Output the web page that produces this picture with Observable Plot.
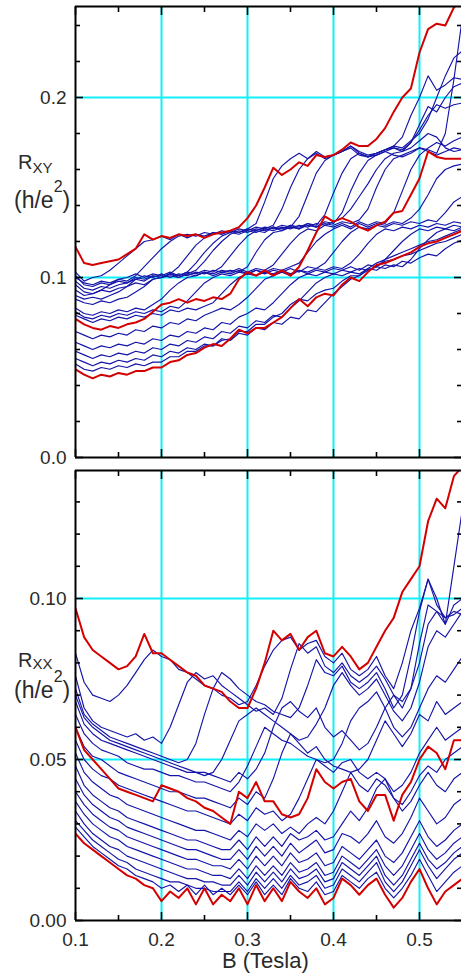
<!DOCTYPE html>
<html><head><meta charset="utf-8">
<script src="https://cdn.jsdelivr.net/npm/d3@7"></script>
<script src="https://cdn.jsdelivr.net/npm/@observablehq/plot@0.6"></script>
<style>
body{margin:0;background:#fff;}
#wrap{position:relative;width:461px;height:974px;overflow:hidden;background:#fff;}
#top,#bot{position:absolute;left:0;}
#top{top:0;} #bot{top:462px;}
</style></head><body>
<div id="wrap"><div id="top"></div><div id="bot"></div></div>
<script>
// magnetic field grid (Tesla)
const bGrid = [0.10,0.11,0.12,0.13,0.14,0.15,0.16,0.17,0.18,0.19,
0.20,0.21,0.22,0.23,0.24,0.25,0.26,0.27,0.28,0.29,
0.30,0.31,0.32,0.33,0.34,0.35,0.36,0.37,0.38,0.39,
0.40,0.41,0.42,0.43,0.44,0.45,0.46,0.47,0.48,0.49,
0.50,0.51,0.52,0.53,0.54,0.55];

// ---- R_XY (h/e^2), red curves ----
const rxyRed1 = [.117,.108,.107,.108,.109,.110,.113,.116,.124,.121,
.123,.122,.124,.123,.124,.122,.124,.125,.126,.128,
.133,.140,.150,.161,.157,.160,.164,.162,.168,.167,
.168,.171,.175,.173,.173,.177,.183,.192,.200,.205,
.225,.238,.241,.240,.250,.255];
const rxyRed2 = [.077,.074,.072,.071,.073,.072,.074,.075,.077,.081,
.085,.086,.088,.086,.088,.087,.089,.088,.091,.099,
.103,.101,.104,.101,.104,.101,.106,.115,.125,.134,
.131,.133,.131,.128,.126,.129,.131,.136,.137,.146,
.155,.170,.167,.166,.166,.166];
const rxyRed3 = [.049,.046,.044,.046,.045,.047,.046,.048,.048,.050,
.050,.053,.054,.057,.058,.061,.063,.062,.066,.071,
.069,.072,.072,.075,.078,.083,.088,.084,.089,.091,
.090,.096,.100,.098,.103,.107,.108,.110,.112,.114,
.117,.119,.120,.122,.124,.126];

// ---- R_XY blue curves ----
const rxyBlue1 = [.103,.098,.100,.101,.104,.108,.112,.116,.120,.121,
.123,.121,.124,.122,.124,.123,.125,.124,.126,.125,
.127,.130,.142,.155,.162,.166,.169,.166,.170,.167,
.168,.170,.172,.168,.167,.169,.171,.173,.178,.190,
.200,.212,.204,.207,.211,.210];
const rxyBlue2 = [.100,.097,.096,.098,.097,.099,.098,.101,.106,.111,
.116,.120,.123,.124,.123,.125,.124,.126,.125,.127,
.126,.128,.127,.129,.138,.150,.160,.166,.169,.166,
.168,.170,.173,.169,.167,.168,.170,.172,.171,.175,
.182,.190,.196,.194,.196,.197];
const rxyBlue3 = [.098,.094,.093,.095,.094,.096,.097,.099,.098,.101,
.100,.102,.106,.112,.118,.122,.125,.124,.126,.125,
.127,.126,.128,.127,.129,.128,.134,.146,.158,.165,
.168,.170,.173,.170,.168,.169,.171,.173,.172,.176,
.180,.188,.200,.212,.222,.226];
const rxyBlue4 = [.096,.092,.091,.093,.092,.094,.095,.097,.096,.099,
.100,.101,.100,.102,.104,.109,.115,.120,.124,.126,
.125,.127,.126,.128,.127,.129,.128,.130,.129,.135,
.147,.158,.166,.169,.167,.169,.171,.172,.170,.172,
.176,.180,.178,.172,.170,.171];
const rxyBlue5 = [.093,.090,.091,.093,.096,.099,.100,.102,.100,.102,
.101,.103,.101,.103,.102,.104,.103,.106,.112,.118,
.123,.126,.125,.128,.126,.129,.127,.130,.128,.131,
.130,.136,.148,.158,.165,.168,.170,.168,.167,.169,
.172,.171,.169,.180,.210,.245];
const rxyBlue6 = [.090,.088,.089,.088,.090,.092,.095,.099,.101,.100,
.102,.100,.102,.101,.103,.102,.104,.103,.104,.103,
.106,.114,.121,.125,.126,.128,.127,.129,.128,.130,
.129,.131,.130,.132,.138,.150,.160,.166,.168,.170,
.172,.170,.168,.170,.172,.171];
const rxyBlue7 = [.088,.086,.085,.087,.086,.088,.089,.092,.095,.099,
.100,.102,.100,.102,.101,.103,.102,.104,.103,.105,
.103,.105,.104,.107,.113,.119,.124,.127,.126,.129,
.128,.130,.128,.131,.129,.131,.130,.136,.148,.160,
.168,.172,.175,.173,.176,.178];
const rxyBlue8 = [.083,.080,.079,.081,.080,.082,.081,.083,.082,.085,
.088,.093,.097,.100,.101,.103,.101,.103,.102,.104,
.102,.104,.103,.105,.104,.106,.108,.114,.120,.124,
.127,.129,.127,.130,.128,.130,.129,.131,.130,.133,
.138,.146,.155,.160,.162,.163];
const rxyBlue9 = [.081,.078,.077,.079,.078,.080,.079,.081,.080,.082,
.081,.084,.083,.087,.092,.097,.100,.102,.101,.103,
.102,.104,.102,.104,.103,.105,.103,.106,.105,.108,
.114,.120,.125,.128,.127,.129,.128,.130,.129,.131,
.130,.132,.131,.136,.142,.145];
const rxyBlue10 = [.079,.077,.075,.077,.076,.078,.077,.079,.078,.080,
.079,.082,.081,.083,.082,.084,.086,.091,.096,.100,
.102,.101,.103,.102,.104,.102,.104,.103,.105,.104,
.106,.105,.108,.113,.119,.124,.127,.126,.128,.127,
.129,.128,.130,.129,.131,.130];
const rxyBlue11 = [.070,.068,.066,.068,.067,.069,.068,.071,.070,.073,
.072,.075,.074,.077,.076,.079,.081,.083,.082,.085,
.089,.094,.099,.101,.103,.101,.104,.102,.104,.103,
.105,.104,.106,.104,.107,.106,.110,.115,.120,.124,
.127,.126,.128,.127,.129,.128];
const rxyBlue12 = [.064,.062,.060,.062,.061,.063,.062,.064,.063,.066,
.065,.068,.067,.070,.069,.072,.071,.075,.074,.078,
.080,.083,.082,.086,.091,.096,.100,.102,.101,.103,
.102,.104,.103,.105,.104,.106,.105,.107,.106,.110,
.116,.121,.125,.127,.126,.128];
const rxyBlue13 = [.059,.057,.055,.057,.056,.058,.057,.059,.058,.061,
.060,.063,.062,.065,.064,.067,.066,.070,.069,.073,
.072,.076,.075,.079,.078,.083,.087,.092,.097,.100,
.102,.101,.103,.102,.105,.104,.107,.106,.109,.108,
.111,.113,.112,.116,.119,.121];
const rxyBlue14 = [.055,.053,.051,.053,.052,.054,.053,.055,.054,.057,
.056,.059,.058,.061,.060,.063,.062,.066,.065,.069,
.068,.072,.071,.075,.074,.078,.077,.082,.081,.086,
.091,.095,.099,.101,.104,.106,.109,.110,.112,.113,
.115,.117,.119,.120,.122,.124];
const rxyBlue15 = [.052,.049,.048,.050,.049,.051,.050,.052,.051,.053,
.053,.056,.056,.059,.059,.062,.062,.065,.066,.070,
.070,.074,.074,.078,.080,.085,.088,.087,.091,.093,
.094,.098,.101,.101,.105,.108,.110,.112,.114,.116,
.118,.120,.121,.123,.125,.127];
const rxyBlue16 = [.101,.096,.095,.097,.096,.098,.097,.100,.099,.101,
.100,.102,.101,.103,.108,.114,.119,.123,.125,.124,
.126,.125,.127,.126,.128,.127,.129,.128,.130,.129,
.131,.133,.138,.145,.152,.160,.166,.169,.170,.175,
.185,.195,.192,.200,.206,.208];

// ---- R_XX (h/e^2), red curves ----
const rxxRed1 = [.097,.088,.084,.082,.080,.078,.079,.082,.089,.083,
.083,.081,.079,.077,.076,.073,.072,.071,.068,.066,
.066,.072,.080,.090,.087,.089,.084,.088,.090,.083,
.082,.085,.082,.078,.080,.085,.090,.094,.102,.106,
.110,.124,.131,.128,.138,.141];
const rxxRed2 = [.060,.053,.050,.047,.044,.041,.040,.039,.038,.037,
.042,.041,.040,.038,.037,.035,.034,.032,.030,.040,
.038,.043,.037,.037,.033,.032,.033,.038,.047,.043,
.041,.043,.044,.037,.034,.039,.039,.031,.039,.043,
.050,.054,.052,.047,.056,.056];
const rxxRed3 = [.027,.024,.022,.020,.018,.016,.014,.013,.011,.010,
.006,.009,.007,.010,.005,.010,.005,.008,.006,.010,
.005,.011,.006,.010,.006,.012,.009,.007,.010,.005,
.007,.013,.011,.008,.011,.013,.008,.004,.007,.012,
.016,.010,.005,.009,.011,.013];

// ---- R_XX blue curves ----
const rxxBlue1 = [.083,.074,.070,.069,.068,.070,.073,.077,.081,.084,
.082,.081,.078,.077,.075,.073,.072,.070,.069,.067,
.068,.073,.079,.084,.087,.088,.084,.086,.087,.082,
.080,.083,.078,.076,.078,.082,.076,.072,.080,.090,
.097,.106,.098,.094,.095,.097];
const rxxBlue2 = [.076,.066,.062,.060,.059,.058,.057,.058,.056,.057,
.055,.060,.067,.074,.077,.075,.076,.073,.071,.069,
.067,.065,.066,.064,.069,.078,.086,.083,.085,.079,
.077,.080,.076,.074,.076,.079,.075,.070,.068,.072,
.080,.092,.096,.094,.096,.095];
const rxxBlue3 = [.072,.064,.061,.059,.057,.056,.055,.054,.053,.052,
.051,.050,.049,.050,.055,.064,.072,.077,.075,.072,
.070,.068,.067,.065,.064,.063,.066,.073,.081,.077,
.076,.079,.074,.072,.074,.077,.072,.066,.070,.082,
.096,.106,.100,.092,.110,.128];
const rxxBlue4 = [.068,.061,.058,.056,.055,.054,.053,.052,.051,.050,
.049,.048,.047,.046,.046,.045,.046,.050,.056,.062,
.064,.066,.064,.062,.060,.058,.056,.057,.061,.066,
.073,.077,.073,.070,.072,.075,.070,.065,.062,.066,
.074,.085,.090,.088,.092,.096];
const rxxBlue5 = [.064,.058,.055,.053,.052,.051,.049,.048,.047,.047,
.046,.045,.045,.044,.043,.043,.042,.041,.040,.043,
.048,.054,.060,.058,.056,.055,.053,.051,.050,.049,
.050,.055,.062,.066,.068,.071,.066,.060,.057,.060,
.066,.072,.076,.074,.078,.082];
const rxxBlue6 = [.060,.054,.051,.050,.048,.046,.045,.044,.043,.042,
.041,.040,.040,.039,.038,.038,.037,.036,.035,.038,
.036,.040,.038,.044,.052,.058,.055,.052,.054,.050,
.048,.047,.046,.047,.050,.056,.062,.058,.054,.058,
.064,.062,.068,.064,.066,.068];
const rxxBlue7 = [.056,.050,.047,.045,.044,.042,.041,.040,.039,.038,
.037,.036,.035,.034,.034,.033,.032,.031,.030,.033,
.031,.035,.033,.034,.031,.033,.038,.044,.050,.048,
.046,.049,.050,.046,.044,.046,.044,.040,.042,.046,
.052,.056,.060,.056,.058,.060];
const rxxBlue8 = [.052,.046,.043,.041,.039,.038,.036,.035,.034,.033,
.032,.031,.030,.029,.028,.028,.027,.026,.025,.028,
.026,.030,.028,.030,.027,.029,.027,.030,.032,.030,
.034,.040,.046,.042,.040,.044,.042,.038,.036,.040,
.045,.048,.046,.050,.052,.054];
const rxxBlue9 = [.048,.042,.039,.037,.035,.034,.032,.031,.030,.029,
.028,.027,.026,.025,.025,.024,.023,.022,.022,.025,
.022,.026,.023,.026,.023,.027,.025,.026,.028,.025,
.026,.030,.034,.031,.035,.041,.044,.038,.034,.037,
.042,.046,.042,.040,.044,.046];
const rxxBlue10 = [.044,.039,.036,.034,.032,.031,.029,.028,.027,.026,
.025,.024,.023,.022,.022,.021,.020,.019,.019,.022,
.019,.023,.020,.023,.020,.024,.021,.023,.025,.021,
.022,.027,.026,.024,.027,.031,.026,.024,.027,.032,
.038,.034,.030,.032,.036,.038];
const rxxBlue11 = [.040,.036,.033,.031,.029,.028,.026,.025,.024,.023,
.022,.021,.020,.019,.019,.018,.017,.017,.016,.019,
.016,.020,.017,.020,.017,.021,.018,.019,.021,.017,
.018,.023,.021,.019,.022,.025,.020,.018,.021,.026,
.031,.026,.023,.025,.028,.030];
const rxxBlue12 = [.037,.033,.030,.028,.026,.025,.023,.022,.021,.020,
.019,.018,.017,.016,.016,.015,.014,.014,.013,.016,
.013,.017,.014,.017,.014,.018,.015,.016,.018,.014,
.015,.020,.018,.016,.019,.022,.017,.014,.017,.022,
.027,.022,.019,.021,.024,.026];
const rxxBlue13 = [.034,.030,.027,.025,.023,.022,.020,.019,.018,.017,
.016,.015,.014,.013,.013,.012,.012,.011,.011,.014,
.011,.015,.012,.015,.012,.016,.013,.014,.016,.012,
.013,.018,.016,.014,.017,.020,.014,.011,.014,.019,
.024,.019,.016,.018,.021,.023];
const rxxBlue14 = [.031,.028,.025,.023,.021,.019,.018,.016,.015,.014,
.013,.012,.012,.011,.010,.010,.009,.009,.009,.012,
.009,.013,.010,.013,.010,.014,.011,.012,.014,.010,
.011,.016,.014,.012,.015,.018,.012,.009,.012,.017,
.022,.017,.013,.016,.019,.021];
const rxxBlue15 = [.029,.026,.023,.021,.019,.017,.016,.014,.013,.012,
.010,.011,.009,.011,.008,.011,.008,.010,.008,.011,
.008,.012,.008,.011,.008,.013,.010,.009,.012,.008,
.009,.014,.012,.010,.013,.015,.010,.007,.010,.014,
.019,.014,.009,.012,.015,.017];
const rxxBlue16 = [.070,.063,.060,.058,.056,.055,.054,.053,.052,.051,
.050,.049,.048,.047,.046,.046,.045,.044,.043,.046,
.044,.047,.052,.060,.066,.068,.065,.063,.066,.060,
.057,.059,.056,.053,.055,.060,.066,.070,.066,.072,
.086,.098,.096,.092,.098,.100];

// axis ticks and scale domains
const xDomain = [0.1, 0.1 + 386 / 860];
const xMajor = [0.1, 0.2, 0.3, 0.4, 0.5];
const xMinor = [0.15, 0.25, 0.35, 0.45];
const xGridTicks = [0.2, 0.3, 0.4, 0.5];
const xyDomain = [0, 451 / 1800];
const xyMajor = [0.0, 0.1, 0.2];
const xyMinor = [0.02,0.04,0.06,0.08,0.12,0.14,0.16,0.18,0.22,0.24];
const xyGrid = [0.1, 0.2];
const xxDomain = [0, 450 / 3220];
const xxMajor = [0.00, 0.05, 0.10];
const xxMinor = [0.01,0.02,0.03,0.04,0.06,0.07,0.08,0.09,0.11,0.12,0.13];
const xxGrid = [0.05, 0.10];

const BLUE = "#1414a8", RED = "#d40000", CYAN = "#10f0f8", TXT = "#2a2a2a";
const FONT = "'Liberation Sans', Arial, Helvetica, sans-serif";

function rows(list, prefix) {
  const out = [];
  list.forEach((arr, k) => arr.forEach((v, i) => out.push({B: bGrid[i], R: v, curve: prefix + k})));
  return out;
}

const rxyBlueRows = rows([rxyBlue1,rxyBlue2,rxyBlue3,rxyBlue4,rxyBlue5,rxyBlue6,rxyBlue7,rxyBlue8,
  rxyBlue9,rxyBlue10,rxyBlue11,rxyBlue12,rxyBlue13,rxyBlue14,rxyBlue15,rxyBlue16], "b");
const rxyRedRows = rows([rxyRed1, rxyRed2, rxyRed3], "r");
const rxxBlueRows = rows([rxxBlue1,rxxBlue2,rxxBlue3,rxxBlue4,rxxBlue5,rxxBlue6,rxxBlue7,rxxBlue8,
  rxxBlue9,rxxBlue10,rxxBlue11,rxxBlue12,rxxBlue13,rxxBlue14,rxxBlue15,rxxBlue16], "b");
const rxxRedRows = rows([rxxRed1, rxxRed2, rxxRed3], "r");

function panel({yDomain, yMajor, yMinor, yGrid, yFmt, height, mt, mb, blue, red, xLabels}) {
  const ax = {stroke: "black", fill: "none", label: null, strokeWidth: 1.6};
  const marks = [
    Plot.gridX({ticks: xGridTicks, stroke: CYAN, strokeOpacity: 1, strokeWidth: 2}),
    Plot.gridY({ticks: yGrid, stroke: CYAN, strokeOpacity: 1, strokeWidth: 2}),
    Plot.line(blue, {x: "B", y: "R", z: "curve", stroke: BLUE, strokeWidth: 1.15, clip: true}),
    Plot.line(red, {x: "B", y: "R", z: "curve", stroke: RED, strokeWidth: 2, clip: true}),
    Plot.ruleX([xDomain[0]], {stroke: "black", strokeWidth: 2}),
    Plot.ruleY([yDomain[0]], {stroke: "black", strokeWidth: 2}),
    Plot.ruleY([yDomain[1]], {stroke: "black", strokeWidth: 2}),
    // inward ticks
    Plot.axisY({...ax, anchor: "left", ticks: yMajor, tickSize: -8}),
    Plot.axisY({...ax, anchor: "left", ticks: yMinor, tickSize: -5}),
    Plot.axisY({...ax, anchor: "right", ticks: yMajor, tickSize: -8}),
    Plot.axisY({...ax, anchor: "right", ticks: yMinor, tickSize: -5}),
    Plot.axisX({...ax, anchor: "bottom", ticks: xMajor, tickSize: -8}),
    Plot.axisX({...ax, anchor: "bottom", ticks: xMinor, tickSize: -5}),
    Plot.axisX({...ax, anchor: "top", ticks: xMajor, tickSize: -8}),
    Plot.axisX({...ax, anchor: "top", ticks: xMinor, tickSize: -5}),
    // tick labels
    Plot.axisY({anchor: "left", ticks: yMajor, tickSize: 0, tickPadding: 9, tickFormat: d3.format(yFmt),
      label: null, fill: TXT, fontSize: 19})
  ];
  if (xLabels) marks.push(Plot.axisX({anchor: "bottom", ticks: xMajor, tickSize: 0, tickPadding: 12,
    tickFormat: d3.format(".1f"), label: null, fill: TXT, fontSize: 19}));
  return Plot.plot({
    width: 461, height, marginLeft: 75, marginRight: 0, marginTop: mt, marginBottom: mb,
    style: {fontFamily: FONT, background: "transparent", overflow: "visible", color: TXT},
    x: {domain: xDomain, label: null},
    y: {domain: yDomain, label: null},
    marks
  });
}

function yTitle(svg, sub, subDy, yR, yH) {
  const s = d3.select(svg);
  const t1 = s.append("text").attr("x", 18).attr("y", yR).attr("font-size", 20)
    .attr("text-anchor", "start").attr("fill", TXT).attr("font-family", FONT);
  t1.append("tspan").text("R");
  t1.append("tspan").attr("font-size", 15).attr("dy", subDy).text(sub);
  const t2 = s.append("text").attr("x", 14).attr("y", yH).attr("font-size", 23)
    .attr("text-anchor", "start").attr("fill", TXT).attr("font-family", FONT);
  t2.append("tspan").text("(h/e");
  t2.append("tspan").attr("font-size", 16).attr("dy", -16).text("2");
  t2.append("tspan").attr("dy", 16).text(")");
}

const topPlot = panel({yDomain: xyDomain, yMajor: xyMajor, yMinor: xyMinor, yGrid: xyGrid, yFmt: ".1f",
  height: 462, mt: 6, mb: 5, blue: rxyBlueRows, red: rxyRedRows, xLabels: false});
yTitle(topPlot, "XY", 4, 169, 208);
document.getElementById("top").appendChild(topPlot);

const botPlot = panel({yDomain: xxDomain, yMajor: xxMajor, yMinor: xxMinor, yGrid: xxGrid, yFmt: ".2f",
  height: 512, mt: 8, mb: 54, blue: rxxBlueRows, red: rxxRedRows, xLabels: true});
yTitle(botPlot, "XX", 2, 205, 236);
d3.select(botPlot).append("text").attr("x", 222).attr("y", 506).attr("font-size", 22)
  .attr("text-anchor", "start").attr("fill", TXT).attr("font-family", FONT).text("B (Tesla)");
document.getElementById("bot").appendChild(botPlot);
</script>
</body></html>
